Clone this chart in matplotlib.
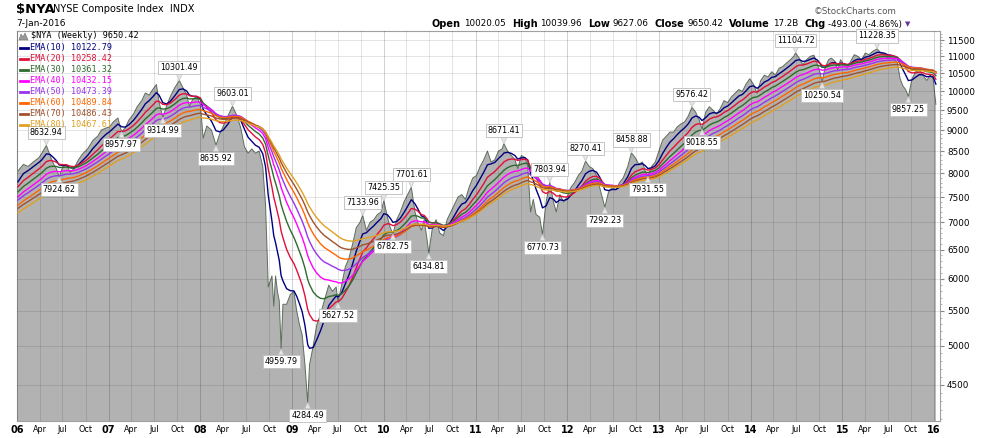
import numpy as np
import matplotlib.pyplot as plt
from matplotlib.patches import Polygon

W, H = 990, 438

# weekly closes of $NYA (decimal year, value)
dates = [
    2006.01, 2006.07, 2006.12, 2006.18, 2006.24, 2006.27, 2006.32, 2006.36, 2006.40, 2006.43, 2006.46,
    2006.50, 2006.54, 2006.58, 2006.62, 2006.67, 2006.72, 2006.77, 2006.83, 2006.88, 2006.92, 2006.97,
    2007.01, 2007.05, 2007.10, 2007.14, 2007.18, 2007.22, 2007.27, 2007.31, 2007.36, 2007.40, 2007.44,
    2007.48, 2007.52, 2007.55, 2007.59, 2007.63, 2007.67, 2007.72, 2007.77, 2007.81, 2007.85, 2007.88,
    2007.92, 2007.96,
    2008.00, 2008.03, 2008.07, 2008.12, 2008.17, 2008.21, 2008.25, 2008.30, 2008.35, 2008.40, 2008.44,
    2008.48, 2008.52, 2008.56, 2008.60, 2008.64, 2008.68, 2008.71, 2008.74, 2008.78, 2008.80, 2008.82,
    2008.84, 2008.86, 2008.88, 2008.90, 2008.94, 2008.98,
    2009.02, 2009.05, 2009.08, 2009.11, 2009.14, 2009.17, 2009.19, 2009.23, 2009.27, 2009.31, 2009.35,
    2009.40, 2009.44, 2009.48, 2009.50, 2009.54, 2009.58, 2009.62, 2009.66, 2009.70, 2009.74, 2009.77,
    2009.81, 2009.85, 2009.89, 2009.93, 2009.97,
    2010.00, 2010.04, 2010.07, 2010.10, 2010.14, 2010.18, 2010.22, 2010.26, 2010.30, 2010.34, 2010.37,
    2010.41, 2010.44, 2010.47, 2010.49, 2010.53, 2010.57, 2010.61, 2010.65, 2010.69, 2010.73, 2010.77,
    2010.81, 2010.85, 2010.89, 2010.93, 2010.97,
    2011.01, 2011.05, 2011.09, 2011.13, 2011.17, 2011.21, 2011.25, 2011.29, 2011.31, 2011.35, 2011.39,
    2011.43, 2011.46, 2011.50, 2011.54, 2011.57, 2011.60, 2011.63, 2011.66, 2011.70, 2011.73, 2011.77,
    2011.81, 2011.85, 2011.88, 2011.92, 2011.96,
    2012.00, 2012.04, 2012.08, 2012.12, 2012.16, 2012.20, 2012.24, 2012.28, 2012.32, 2012.36, 2012.41,
    2012.45, 2012.49, 2012.53, 2012.57, 2012.61, 2012.66, 2012.70, 2012.74, 2012.78, 2012.82, 2012.85,
    2012.88, 2012.92, 2012.96,
    2013.00, 2013.04, 2013.08, 2013.12, 2013.16, 2013.20, 2013.24, 2013.28, 2013.32, 2013.36, 2013.40,
    2013.44, 2013.47, 2013.51, 2013.55, 2013.59, 2013.63, 2013.67, 2013.71, 2013.75, 2013.79, 2013.83,
    2013.87, 2013.91, 2013.95, 2013.99,
    2014.03, 2014.07, 2014.11, 2014.15, 2014.19, 2014.23, 2014.27, 2014.31, 2014.35, 2014.39, 2014.43,
    2014.47, 2014.49, 2014.53, 2014.57, 2014.61, 2014.65, 2014.69, 2014.73, 2014.76, 2014.78, 2014.81,
    2014.85, 2014.88, 2014.92, 2014.95, 2014.98,
    2015.02, 2015.05, 2015.09, 2015.13, 2015.17, 2015.21, 2015.25, 2015.29, 2015.33, 2015.38, 2015.42,
    2015.46, 2015.50, 2015.54, 2015.57, 2015.60, 2015.63, 2015.66, 2015.69, 2015.72, 2015.76, 2015.80,
    2015.84, 2015.88, 2015.92, 2015.96, 2015.99, 2016.02,
]
close = [
    8050, 8197, 8150, 8255, 8350, 8446, 8632.94, 8400, 8200, 8100, 7924.62,
    8150, 8180, 8020, 8100, 8300, 8446, 8550, 8757, 8850, 9000, 9050,
    9080, 9200, 9300, 8957.97, 9050, 9248, 9400, 9590, 9750, 9957, 9900,
    10050, 10190, 9700, 9314.99, 9600, 9850, 10100, 10301.49, 10100, 9900, 9600,
    9800, 9856,
    9650, 8800, 9100, 9000, 8635.92, 8900, 9100, 9350, 9603.01, 9350, 9050,
    8600, 8450, 8550, 8450, 8500, 8150, 7350, 5870, 6050, 5570, 6050,
    5800, 5650, 4959.79, 5600, 5600, 5750,
    5800, 5500, 5300, 5150, 4750, 4284.49, 4750, 5000, 5300, 5450, 5650,
    5900, 5800, 5870, 5627.52, 5900, 6200, 6350, 6600, 6900, 7000, 7133.96,
    6850, 7000, 7050, 7150, 7200,
    7425.35, 7100, 6900, 6782.75, 7050, 7200, 7400, 7550, 7701.61, 7200, 7000,
    6850, 7050, 6700, 6434.81, 6900, 7050, 6800, 6750, 7050, 7200, 7350,
    7500, 7550, 7450, 7700, 7900,
    7950, 8150, 8300, 8500, 8250, 8300, 8500, 8550, 8671.41, 8500, 8400,
    8300, 8100, 8400, 8350, 8150, 7200, 7450, 7150, 7100, 6770.73, 7400,
    7803.94, 7400, 7200, 7550, 7400,
    7500, 7700, 7800, 7950, 8050, 8270.41, 8150, 8100, 7950, 7650, 7292.23,
    7600, 7700, 7650, 7800, 7900, 8150, 8458.88, 8350, 8200, 8250, 8050,
    7931.55, 8150, 8250,
    8500, 8757, 8850, 8950, 8950, 9080, 9150, 9200, 9350, 9576.42, 9450,
    9250, 9018.55, 9450, 9590, 9500, 9400, 9550, 9750, 9700, 9850, 9950,
    10050, 10000, 10200, 10350,
    10200, 9950, 10300, 10450, 10400, 10550, 10450, 10650, 10700, 10800, 10890,
    11000, 11104.72, 10950, 10750, 10900, 11000, 11035, 10750, 10500, 10250.54, 10650,
    10900, 10950, 10850, 10600, 10900,
    10750, 10650, 10850, 11050, 11000, 10900, 11100, 11050, 11150, 11228.35, 11100,
    11050, 10950, 11000, 10900, 10800, 10350, 10150, 10050, 9857.25, 10350, 10550,
    10600, 10450, 10300, 10450, 10350, 9650.42,
]

ema_periods = [10, 20, 30, 40, 50, 60, 70, 80]
ema_start = [7817, 7711, 7606, 7504, 7436, 7336, 7270, 7183]  # values at left edge
ema_last = ["10122.79", "10258.42", "10361.32", "10432.15",
            "10473.39", "10489.84", "10486.43", "10467.61"]
ema_colors = ["#000080", "#e0103a", "#2e6b2e", "#ff00ff",
              "#9933ee", "#ff6600", "#a0522d", "#e0a020"]

peaks = [(2006.32, 8632.94), (2007.77, 10301.49), (2008.35, 9603.01), (2009.77, 7133.96),
         (2010.00, 7425.35), (2010.30, 7701.61), (2011.31, 8671.41), (2011.81, 7803.94),
         (2012.20, 8270.41), (2012.70, 8458.88), (2013.36, 9576.42), (2014.49, 11104.72),
         (2015.38, 11228.35)]
troughs = [(2006.46, 7924.62), (2007.14, 8957.97), (2007.59, 9314.99), (2008.17, 8635.92),
           (2008.88, 4959.79), (2009.17, 4284.49), (2009.50, 5627.52), (2010.10, 6782.75),
           (2010.49, 6434.81), (2011.73, 6770.73), (2012.41, 7292.23), (2012.88, 7931.55),
           (2013.47, 9018.55), (2014.78, 10250.54), (2015.72, 9857.25)]

ytick_vals = list(range(4500, 12000, 500))


def ema(period, seed):
    a = 2.0 / (period + 1)
    out = [seed]
    for i in range(1, len(close)):
        dt = (dates[i] - dates[i - 1]) * 52.18
        k = 1 - (1 - a) ** dt
        out.append(out[-1] + k * (close[i] - out[-1]))
    return np.array(out)


def fx(x):
    return x / W


def fy(y):
    return 1 - y / H


fig = plt.figure(figsize=(W / 100, H / 100), dpi=100)
ax = fig.add_axes([fx(17), fy(421), (940 - 17) / W, (421 - 31) / H])

t = np.array(dates)
p = np.array(close)
ax.set_yscale("log")
ax.set_xlim(2006.0, 2016.065)
ax.set_ylim(4075, 11787)

ax.fill_between(t, p, 3000, color="#b2b2b2", lw=0, zorder=1)
ax.plot(t, p, color="#5d6e5d", lw=0.7, zorder=2)

# grid
for yr in range(2006, 2017):
    ax.axvline(yr, color="black", alpha=0.18, lw=0.7, zorder=3)
    if yr < 2016:
        for q in (0.247, 0.496, 0.748):
            ax.axvline(yr + q, color="black", alpha=0.11, lw=0.7, zorder=3)
for v in ytick_vals:
    ax.axhline(v, color="black", alpha=0.11, lw=0.7, zorder=3)

for n, seed, c in zip(ema_periods, ema_start, ema_colors):
    ax.plot(t, ema(n, seed), color=c, lw=1.0, zorder=4)

box = dict(boxstyle="square,pad=0.25", fc="white", ec="#c4c4c4", lw=0.7)
arrow = dict(arrowstyle="wedge,tail_width=0.7,shrink_factor=0.5", fc="#e6e6e6", ec="#c4c4c4",
             lw=0.5, shrinkA=0, shrinkB=0)
for d, v in peaks:
    ax.annotate(f"{v:.2f}", xy=(d, v), xytext=(0, 6), textcoords="offset points",
                ha="center", va="bottom", fontsize=5.8, bbox=box, arrowprops=arrow, zorder=6)
for d, v in troughs:
    ax.annotate(f"{v:.2f}", xy=(d, v), xytext=(0, -6), textcoords="offset points",
                ha="center", va="top", fontsize=5.8, bbox=box, arrowprops=arrow, zorder=6)

# axes
ax.yaxis.tick_right()
ax.set_yticks(ytick_vals)
ax.set_yticklabels([str(v) for v in ytick_vals], fontsize=6.3)
ax.set_yticks([v for v in range(4100, 11800, 100) if v % 500], minor=True)
ax.yaxis.set_minor_formatter(plt.NullFormatter())
ax.tick_params(axis="y", which="major", length=3, color="#888888", pad=2)
ax.tick_params(axis="y", which="minor", length=1.5, color="#aaaaaa")

xt, xl = [], []
for yr in range(2006, 2017):
    xt.append(yr)
    xl.append(f"{yr % 100:02d}")
    if yr < 2016:
        xt += [yr + 0.247, yr + 0.496, yr + 0.748]
        xl += ["Apr", "Jul", "Oct"]
ax.set_xticks(xt)
ax.set_xticklabels(xl, fontsize=5.8)
for lab in ax.get_xticklabels():
    if lab.get_text().isdigit():
        lab.set_fontweight("bold")
        lab.set_fontsize(7)
ax.tick_params(axis="x", length=0, pad=3)
for s in ax.spines.values():
    s.set_color("#a0a0a0")
    s.set_linewidth(0.8)

# legend
fig.patches.append(Polygon([(fx(19), fy(40)), (fx(21), fy(34)), (fx(23), fy(37)), (fx(25), fy(33)),
                            (fx(28), fy(40))], closed=True, transform=fig.transFigure,
                           fc="#9a9a9a", ec="#707070", lw=0.4))
fig.text(fx(31), fy(36), "$NYA (Weekly) 9650.42", family="DejaVu Sans Mono", fontsize=6.1,
         va="center", color="black")
for i, (n, c, lv) in enumerate(zip(ema_periods, ema_colors, ema_last)):
    yy = 47.5 + i * 11.0
    fig.lines.append(plt.Line2D([fx(20), fx(28)], [fy(yy), fy(yy)], transform=fig.transFigure,
                                color=c, lw=2))
    fig.text(fx(30), fy(yy), f"EMA({n}) {lv}", family="DejaVu Sans Mono", fontsize=6.1,
             va="center", color=c)

# header
fig.text(fx(16), fy(9), r"\$NYA", fontsize=9.5, weight="bold", va="center")
fig.text(fx(53), fy(9), "NYSE Composite Index  INDX", fontsize=7, va="center")
fig.text(fx(16), fy(23.5), "7-Jan-2016", fontsize=6.5, va="center")
fig.text(fx(897), fy(11), "\u00a9StockCharts.com", fontsize=6.3, va="center", ha="right",
         color="#555555")

r = fig.canvas.get_renderer()
parts = [("Open", True), ("10020.05", False), ("High", True), ("10039.96", False),
         ("Low", True), ("9627.06", False), ("Close", True), ("9650.42", False),
         ("Volume", True), ("17.2B", False), ("Chg", True), ("-493.00 (-4.86%)", False)]
xpos = 432
for s, bold in parts:
    tx = fig.text(fx(xpos), fy(24), s, fontsize=7 if bold else 6.3,
                  weight="bold" if bold else "normal", va="center")
    w = tx.get_window_extent(r).width
    xpos += w + (3 if bold else 6)
fig.text(fx(xpos - 4), fy(24.5), "\u25bc", fontsize=5, va="center", color="#663399")

fig.savefig("out.png", dpi=100, facecolor="white")
